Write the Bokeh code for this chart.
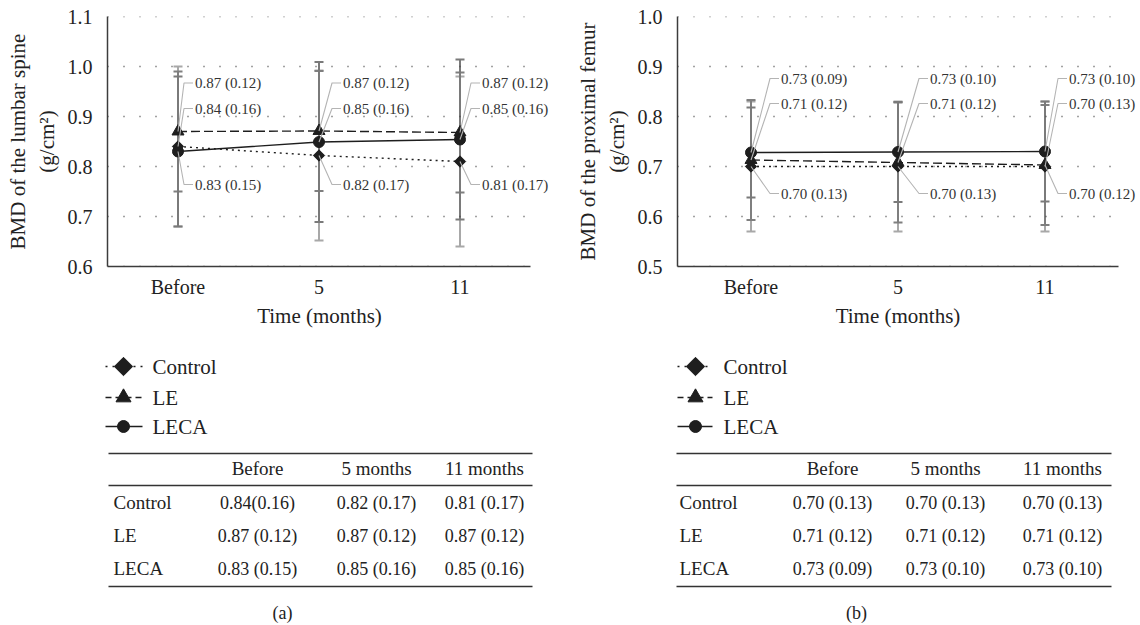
import numpy as np
from bokeh.plotting import figure
from bokeh.models import (Range1d, FixedTicker, Whisker, TeeHead, ColumnDataSource,
                          NumeralTickFormatter, LabelSet)
from bokeh.layouts import row, column
from bokeh.embed import file_html
from bokeh.resources import INLINE
from bokeh.core.properties import value

# ---------------- data ----------------
times = ["Before", "5", "11"]
groups = ["Control", "LE", "LECA"]
table_cols = ["Before", "5 months", "11 months"]

spine_control = [0.840, 0.822, 0.810]
spine_le = [0.870, 0.871, 0.868]
spine_leca = [0.830, 0.849, 0.854]
spine_sd_control = [0.16, 0.17, 0.17]
spine_sd_le = [0.12, 0.12, 0.12]
spine_sd_leca = [0.15, 0.16, 0.16]

femur_control = [0.700, 0.700, 0.700]
femur_le = [0.713, 0.708, 0.703]
femur_leca = [0.728, 0.729, 0.730]
femur_sd_control = [0.13, 0.13, 0.13]
femur_sd_le = [0.12, 0.12, 0.12]
femur_sd_leca = [0.09, 0.10, 0.10]

# data labels shown on the chart (upper, middle, lower slot at each time)
spine_label_groups = [["LE", "Control", "LECA"], ["LE", "LECA", "Control"], ["LE", "LECA", "Control"]]
spine_label_texts = [["0.87 (0.12)", "0.84 (0.16)", "0.83 (0.15)"],
                     ["0.87 (0.12)", "0.85 (0.16)", "0.82 (0.17)"],
                     ["0.87 (0.12)", "0.85 (0.16)", "0.81 (0.17)"]]
femur_label_groups = [["LECA", "LE", "Control"], ["LECA", "LE", "Control"], ["LECA", "Control", "LE"]]
femur_label_texts = [["0.73 (0.09)", "0.71 (0.12)", "0.70 (0.13)"],
                     ["0.73 (0.10)", "0.71 (0.12)", "0.70 (0.13)"],
                     ["0.73 (0.10)", "0.70 (0.13)", "0.70 (0.12)"]]

spine_table_control = ["0.84(0.16)", "0.82 (0.17)", "0.81 (0.17)"]
spine_table_le = ["0.87 (0.12)", "0.87 (0.12)", "0.87 (0.12)"]
spine_table_leca = ["0.83 (0.15)", "0.85 (0.16)", "0.85 (0.16)"]
femur_table_control = ["0.70 (0.13)", "0.70 (0.13)", "0.70 (0.13)"]
femur_table_le = ["0.71 (0.12)", "0.71 (0.12)", "0.71 (0.12)"]
femur_table_leca = ["0.73 (0.09)", "0.73 (0.10)", "0.73 (0.10)"]

# ---------------- styles ----------------
SERIF = "Liberation Serif"
INK = "#1e1e1e"
TXT = "#222222"
STY = {
    "Control": dict(dash="2 4", ldash="2 5", marker="square", angle=np.pi / 4, size=8,
                    lsize=13, bar="#a8a8a8"),
    "LE": dict(dash="9 4", ldash="6 4", marker="triangle", angle=0.0, size=12, lsize=15,
               bar="#7f7f7f"),
    "LECA": dict(dash="solid", ldash="solid", marker="circle", angle=0.0, size=11, lsize=12,
                 bar="#7a7a7a"),
}
TOP_H = 300


def make_plot(means, sds, lab_groups, lab_texts, y_lo, y_hi, ylabel, unit,
              lab_px, slots):
    W, H = 570, TOP_H
    frame_w = W - 107
    n = len(times)
    p = figure(width=W, height=H, x_range=Range1d(-0.5, -0.5 + frame_w / unit),
               y_range=Range1d(y_lo, y_hi), toolbar_location=None, output_backend="svg",
               min_border_left=107, min_border_right=0, min_border_top=16,
               min_border_bottom=H - 16 - 251)
    p.frame_align = False
    p.outline_line_color = None
    p.background_fill_color = "white"
    p.xgrid.visible = False
    p.ygrid.visible = False
    yt = [round(v, 1) for v in np.arange(y_lo, y_hi + 0.001, 0.1)]
    # dotted horizontal grid, limited to the category span
    p.segment(x0=[-0.5] * len(yt), x1=[n - 0.5] * len(yt), y0=yt, y1=yt,
              line_color="#444444", line_dash="1 15", line_width=1.5)
    p.yaxis.ticker = FixedTicker(ticks=yt)
    p.yaxis.formatter = NumeralTickFormatter(format="0.0")
    xs = list(range(n))
    p.xaxis.ticker = FixedTicker(ticks=xs)
    p.xaxis.major_label_overrides = {i: t for i, t in enumerate(times)}
    p.xaxis.bounds = (-0.5, n - 0.5)
    for ax in (p.xaxis, p.yaxis):
        ax.axis_line_color = "#3c3c3c"
        ax.axis_line_width = 1.5
        ax.major_tick_line_color = None
        ax.minor_tick_line_color = None
        ax.major_label_text_font = SERIF
        ax.major_label_text_font_size = "20px"
        ax.major_label_text_color = TXT
        ax.axis_label_text_font = SERIF
        ax.axis_label_text_font_size = "21px"
        ax.axis_label_text_font_style = "normal"
        ax.axis_label_text_color = TXT
    p.yaxis.major_label_standoff = 9
    p.xaxis.major_label_standoff = 3
    p.yaxis.axis_label = ylabel
    p.yaxis.axis_label_standoff = 6

    # error bars
    for g in groups:
        m = np.array(means[g]); s = np.array(sds[g])
        src = ColumnDataSource(dict(x=xs, upper=m + s, lower=m - s))
        c = STY[g]["bar"]
        w = Whisker(base="x", upper="upper", lower="lower", source=src,
                    line_color=c, line_width=2,
                    upper_head=TeeHead(size=9, line_color=c, line_width=2),
                    lower_head=TeeHead(size=9, line_color=c, line_width=2))
        w.level = "underlay"
        p.add_layout(w)
    # lines and markers
    for g in groups:
        st = STY[g]
        p.line(xs, means[g], line_color=INK, line_width=1.4, line_dash=st["dash"])
    for g in groups:
        st = STY[g]
        p.scatter(xs, means[g], marker=st["marker"], size=st["size"], angle=st["angle"],
                  fill_color=INK, line_color=INK)
    # leader lines + data labels
    lx_all, ly_all, lt_all, mx, my = [], [], [], [], []
    for ti in xs:
        for k in range(3):
            g = lab_groups[ti][k]
            yp = means[g][ti]
            ys = slots[k]
            lx = ti + lab_px[ti] / unit
            elbow = lx - 11 / unit
            end = lx - 2 / unit
            mx.append([ti, elbow, end]); my.append([yp, ys, ys])
            lx_all.append(lx); ly_all.append(ys); lt_all.append(lab_texts[ti][k])
    p.multi_line(mx, my, line_color="#b4b4b4", line_width=1.1)
    lsrc = ColumnDataSource(dict(x=lx_all, y=ly_all, text=lt_all))
    p.add_layout(LabelSet(x="x", y="y", text="text", source=lsrc, text_font=value(SERIF),
                          text_font_size="15px", text_color="#333333",
                          text_baseline="middle", text_align="left"))
    return p


def make_table(rows_vals, x0, x1, row_label_x, col_x, leg_x, xlabel_x, caption,
               caption_x):
    W, H = 570, 625 - TOP_H
    dy = TOP_H - 340  # coordinates below are measured from the top of the legend block
    f = figure(width=W, height=H, x_range=Range1d(0, W), y_range=Range1d(H + dy, dy),
               toolbar_location=None, output_backend="svg", min_border=0,
               min_border_left=0, min_border_right=0, min_border_top=0,
               min_border_bottom=0, x_axis_location=None, y_axis_location=None)
    f.frame_align = False
    f.grid.visible = False
    f.outline_line_color = None
    # x axis title of the chart above
    f.text(x=[xlabel_x], y=[-25], text=["Time (months)"], text_font=value(SERIF),
           text_font_size="21px", text_align="center", text_baseline="middle",
           text_color=TXT)
    # legend: line sample, marker and name for each group
    gl0, gl1, gm, gt = leg_x
    leg_y = [26, 57, 86]
    for i, g in enumerate(groups):
        st = STY[g]
        f.segment(x0=[gl0], x1=[gl1], y0=[leg_y[i]], y1=[leg_y[i]], line_color=INK,
                  line_width=1.5, line_dash=st["ldash"])
        f.scatter([gm], [leg_y[i]], marker=st["marker"], size=st["lsize"], angle=st["angle"],
                  fill_color=INK, line_color=INK)
    f.text(x=[gt] * 3, y=leg_y, text=groups, text_font=value(SERIF), text_font_size="21px",
           text_align="left", text_baseline="middle", text_color=TXT)
    # rules
    f.segment(x0=[x0, x0, x0], y0=[113, 145, 246], x1=[x1, x1, x1], y1=[113, 145, 246],
              line_color="#333333", line_width=1.6)
    # header
    f.text(x=col_x, y=[128] * len(col_x), text=table_cols, text_font=value(SERIF),
           text_font_size="19px", text_align="center", text_baseline="middle",
           text_color=TXT)
    row_y = [162, 195, 228]
    f.text(x=[row_label_x] * 3, y=row_y, text=groups, text_font=value(SERIF),
           text_font_size="19px", text_align="left", text_baseline="middle",
           text_color=TXT)
    cx, cy, ct = [], [], []
    for r, vals in enumerate(rows_vals):
        for c, v in enumerate(vals):
            cx.append(col_x[c]); cy.append(row_y[r]); ct.append(v)
    f.text(x=cx, y=cy, text=ct, text_font=value(SERIF), text_font_size="18px",
           text_align="center", text_baseline="middle", text_color=TXT)
    f.text(x=[caption_x], y=[272], text=[caption], text_font=value(SERIF),
           text_font_size="18px", text_align="center", text_baseline="middle",
           text_color=TXT)
    return f


pa = make_plot({"Control": spine_control, "LE": spine_le, "LECA": spine_leca},
               {"Control": spine_sd_control, "LE": spine_sd_le, "LECA": spine_sd_leca},
               spine_label_groups, spine_label_texts, 0.6, 1.1,
               "BMD of the lumbar spine\n(g/cm²)", 141, [17, 24, 22], [0.967, 0.916, 0.764])
pb = make_plot({"Control": femur_control, "LE": femur_le, "LECA": femur_leca},
               {"Control": femur_sd_control, "LE": femur_sd_le, "LECA": femur_sd_leca},
               femur_label_groups, femur_label_texts, 0.5, 1.0,
               "BMD of the proximal femur\n(g/cm²)", 147, [30, 32, 24], [0.876, 0.826, 0.646])

ta = make_table([spine_table_control, spine_table_le, spine_table_leca],
                108, 532, 113, [257, 376, 484], (105, 142, 123, 152), 319, "(a)", 282)
tb = make_table([femur_table_control, femur_table_le, femur_table_leca],
                106, 541, 109, [262, 375, 492], (107, 142, 125, 153), 327.5, "(b)", 286)

layout = row(column(pa, ta), column(pb, tb))
open("out.html", "w").write(file_html(layout, INLINE))
